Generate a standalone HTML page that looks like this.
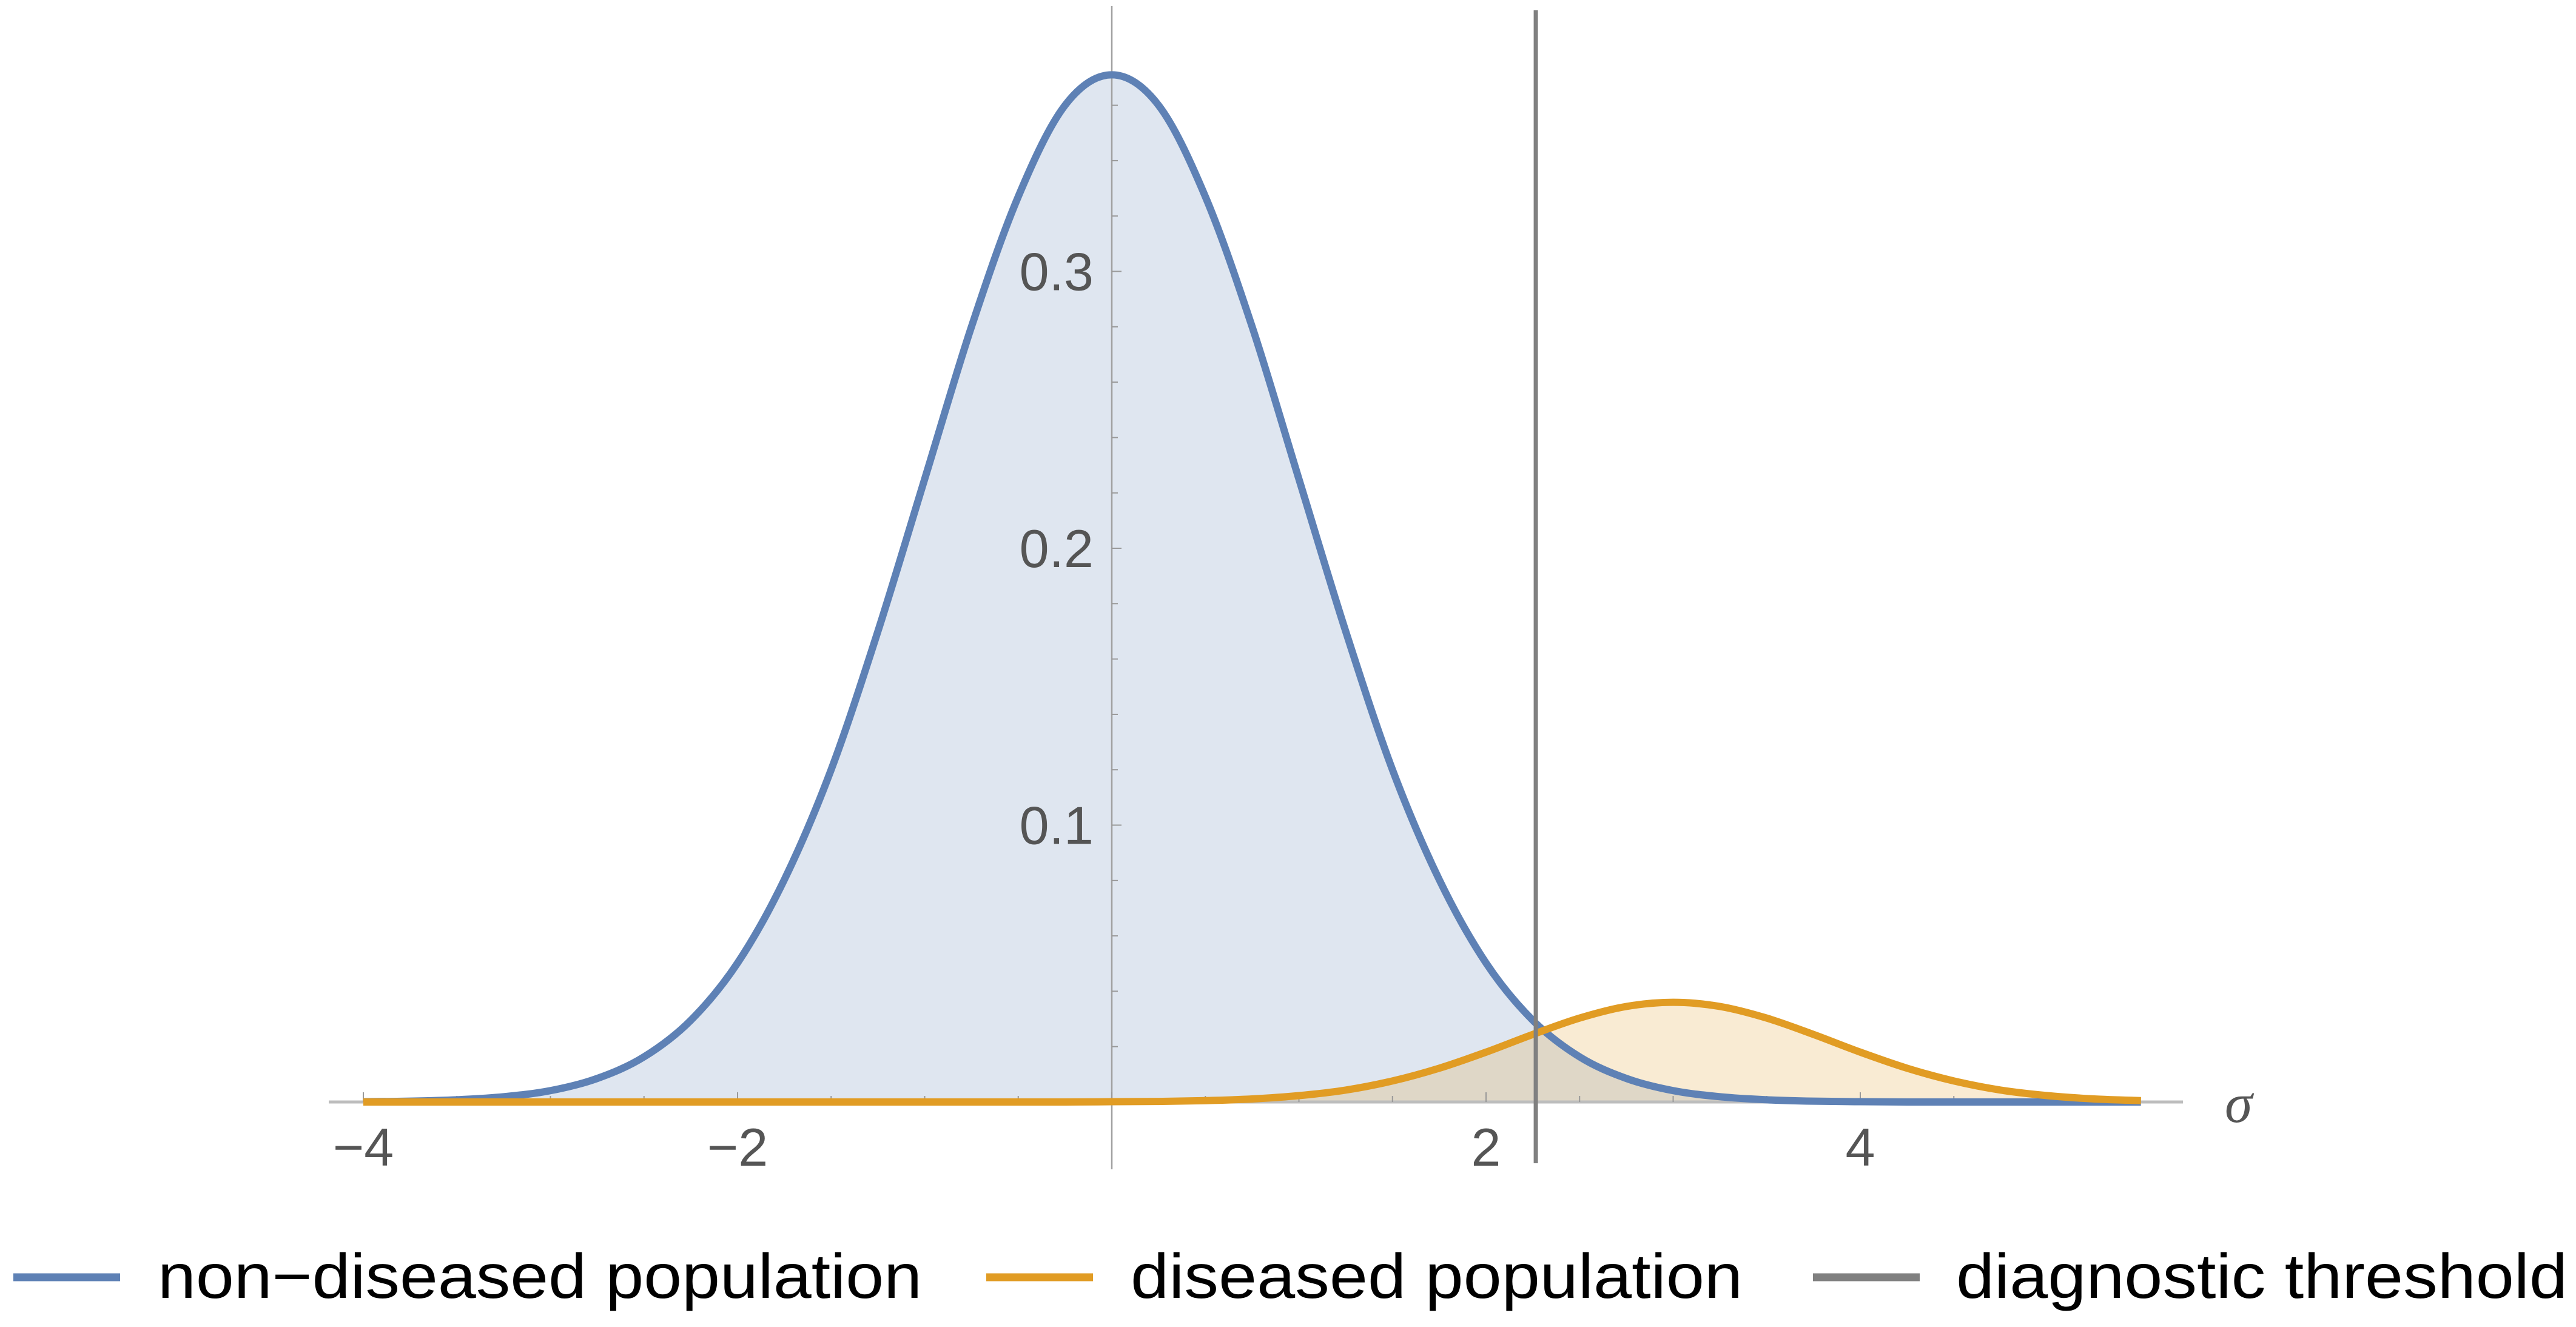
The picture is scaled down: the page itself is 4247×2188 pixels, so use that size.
<!DOCTYPE html>
<html><head><meta charset="utf-8"><style>
html,body{margin:0;padding:0;background:#fff;}
svg{display:block;font-family:"Liberation Sans",sans-serif;}
</style></head><body>
<svg id="chart" width="4247" height="2188" viewBox="0 0 4247 2188" xmlns="http://www.w3.org/2000/svg">
<g id="fills"></g>
<g id="axes"></g>
<g id="lines"></g>
<g id="legend">
  <line x1="22" y1="2106" x2="198" y2="2106" stroke="#5e81b5" stroke-width="13"/>
  <text x="260" y="2140" font-size="104" fill="#000" textLength="1260" lengthAdjust="spacingAndGlyphs">non−diseased population</text>
  <line x1="1626" y1="2106" x2="1802" y2="2106" stroke="#e19c24" stroke-width="13"/>
  <text x="1864" y="2140" font-size="104" fill="#000" textLength="1009" lengthAdjust="spacingAndGlyphs">diseased population</text>
  <line x1="2989" y1="2106" x2="3165" y2="2106" stroke="#808080" stroke-width="13"/>
  <text x="3225" y="2140" font-size="104" fill="#000" textLength="1008" lengthAdjust="spacingAndGlyphs">diagnostic threshold</text>
</g>
</svg>
<script>
const xs = [-4,-3.75,-3.5,-3.25,-3,-2.75,-2.5,-2.25,-2,-1.75,-1.5,-1.25,-1,-0.75,-0.5,-0.25,0,0.25,0.5,0.75,1,1.25,1.5,1.75,2,2.25,2.5,2.75,3,3.25,3.5,3.75,4,4.25,4.5,4.75,5,5.25,5.5];
const nonDiseased = [0.0001,0.0003,0.0008,0.0019,0.0041,0.0085,0.0163,0.0295,0.0502,0.0803,0.120,0.170,0.225,0.280,0.327,0.360,0.371,0.360,0.327,0.280,0.225,0.170,0.120,0.0803,0.0502,0.0295,0.0163,0.0085,0.0041,0.0019,0.0008,0.0003,0.0001,0,0,0,0,0,0];
const diseased = [0,0,0,0,0,0,0,0,0,0,0,0,0,0,0,0,0.0001,0.0002,0.0005,0.0011,0.0023,0.0043,0.0076,0.0122,0.0180,0.0244,0.0303,0.0345,0.0360,0.0345,0.0303,0.0244,0.0180,0.0122,0.0076,0.0043,0.0023,0.0011,0.0005];
const threshold = 2.266;
const xTicks = [-4,-2,2,4];
const xTickLabels = ["−4","−2","2","4"];
const yTicks = [0.1,0.2,0.3];
const yTickLabels = ["0.1","0.2","0.3"];

const X0 = 1833, XS = 308.5, Y0 = 1817, YS = 4565;
function sx(v){return X0 + v*XS;}
function sy(v){return Y0 - v*YS;}
const NS = "http://www.w3.org/2000/svg";
function mk(tag, attrs, parent){const e=document.createElementNS(NS,tag);for(const k in attrs)e.setAttribute(k,attrs[k]);parent.appendChild(e);return e;}

function curvePath(ys){
  const p = xs.map((x,i)=>[sx(x),sy(ys[i])]);
  let d = "M"+p[0][0]+","+p[0][1];
  for(let i=0;i<p.length-1;i++){
    const p0=p[Math.max(0,i-1)],p1=p[i],p2=p[i+1],p3=p[Math.min(p.length-1,i+2)];
    let c1y=p1[1]+(p2[1]-p0[1])/6, c2y=p2[1]-(p3[1]-p1[1])/6;
    c1y=Math.min(c1y,Y0); c2y=Math.min(c2y,Y0);
    d+=" C"+(p1[0]+(p2[0]-p0[0])/6)+","+c1y+" "+(p2[0]-(p3[0]-p1[0])/6)+","+c2y+" "+p2[0]+","+p2[1];
  }
  return d;
}
const fills=document.getElementById('fills'), axes=document.getElementById('axes'), lines=document.getElementById('lines');
const xa=sx(xs[0]), xb=sx(xs[xs.length-1]);
let f1=mk('path',{d:curvePath(nonDiseased)+" L"+xb+","+Y0+" L"+xa+","+Y0+" Z",fill:"#5e81b5","fill-opacity":"0.2"},fills);


let f2=mk('path',{d:curvePath(diseased)+" L"+xb+","+Y0+" L"+xa+","+Y0+" Z",fill:"#e19c24","fill-opacity":"0.2"},fills);



let xAxis=mk('line',{x1:542,y1:Y0,x2:3599,y2:Y0,stroke:"#bdbdbd","stroke-width":5},axes);


let yAxis=mk('line',{x1:X0,y1:10,x2:X0,y2:1928,stroke:"#a0a0a0","stroke-width":2.5},axes);


for(let v=-4;v<=5.01;v+=0.5){
  const t=mk('line',{x1:sx(v),y1:Y0,x2:sx(v),y2:Y0-(Math.abs(v-Math.round(v))<0.01&&Math.round(v)%2===0?16:10),stroke:"#999","stroke-width":2},axes);
  
  
}
for(let v=0.02;v<=0.38;v+=0.02){
  const major=Math.abs(v*10-Math.round(v*10))<0.01;
  const t=mk('line',{x1:X0,y1:sy(v),x2:X0+(major?16:10),y2:sy(v),stroke:"#999","stroke-width":2},axes);
  
  
}
xTicks.forEach((v,i)=>{
  const t=mk('text',{x:sx(v),y:1922,"font-size":88,fill:"#555","text-anchor":"middle"},axes);
  t.textContent=xTickLabels[i];
  
  
});
yTicks.forEach((v,i)=>{
  const t=mk('text',{x:1803,y:sy(v)+31,"font-size":88,fill:"#555","text-anchor":"end"},axes);
  t.textContent=yTickLabels[i];
  
  
});
let sig=mk('text',{x:3668,y:1850,"font-size":92,fill:"#555","font-style":"italic","font-family":"Liberation Serif, serif"},axes);
sig.textContent="σ";



let l1=mk('path',{d:curvePath(nonDiseased),fill:"none",stroke:"#5e81b5","stroke-width":12,"stroke-linejoin":"round"},lines);


let l2=mk('path',{d:curvePath(diseased),fill:"none",stroke:"#e19c24","stroke-width":12,"stroke-linejoin":"round"},lines);


let th=mk('line',{x1:sx(threshold),y1:17,x2:sx(threshold),y2:1918,stroke:"#808080","stroke-width":7},lines);


</script>
</body></html>
